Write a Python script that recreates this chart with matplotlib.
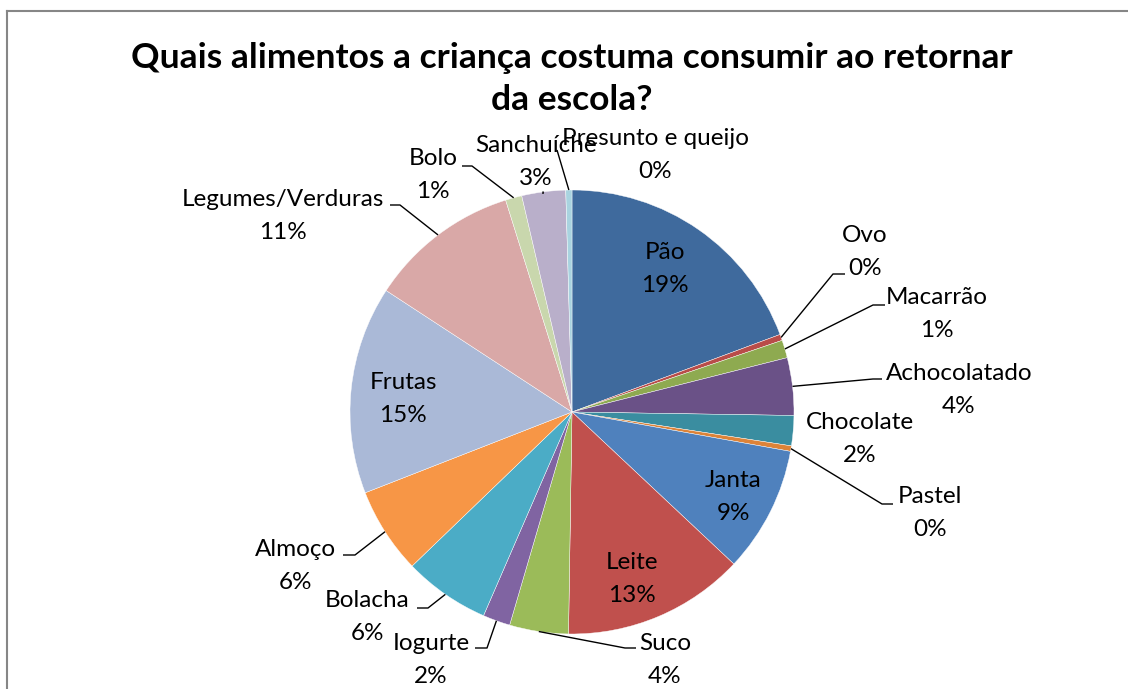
import matplotlib
matplotlib.use("Agg")
import matplotlib.pyplot as plt
import numpy as np

# ---------------- data ----------------
categories = ["Pão", "Ovo", "Macarrão", "Achocolatado", "Chocolate", "Pastel",
              "Janta", "Leite", "Suco", "Iogurte", "Bolacha", "Almoço",
              "Frutas", "Legumes/Verduras", "Bolo", "Sanchuíche", "Presunto e queijo"]
values = [19.4, 0.45, 1.3, 4.2, 2.2, 0.4, 9.2, 13.3, 4.3, 2.0, 6.3, 6.3,
          15.2, 11.0, 1.2, 3.2, 0.45]
title = "Quais alimentos a criança costuma consumir ao retornar\nda escola?"

# ---------------- styles / layout ----------------
colors = ["#3F6A9D", "#B94C49", "#8EAA50", "#6A5187", "#3A8DA0", "#DD8338",
          "#4F81BD", "#C0504D", "#9BBB59", "#8064A2", "#4BACC6", "#F79646",
          "#AAB9D7", "#D9A8A7", "#C9D7AD", "#B9AFCA", "#A9D3E0"]
W, H = 1128, 689
cx, cy, R = 572, 412, 222           # pie centre / radius in pixels (top-left origin)
# label block centres (pixels, top-left origin)
label_pos = [(665, 269), (865, 252), (937, 314), (959, 390), (860, 439), (930, 513),
             (733, 497), (632, 579), (665, 660), (431, 660), (367, 617), (295, 566),
             (403, 399), (283, 216), (433, 175), (536, 162), (655, 155)]
# leader lines: (bend point, end point) or None
leaders = [None,
           ((833, 274), (845, 274)),
           ((873, 305), (885, 305)),
           ((873, 379), (882, 379)),
           None,
           ((882, 504), (893, 504)),
           None, None,
           ((625, 648), (636, 648)),
           ((487, 648), (475, 648)),
           ((428, 608), (417, 608)),
           ((355, 555), (343, 555)),
           None,
           ((400, 205), (390, 205)),
           ((472, 166), (462, 166)),
           ((543, 192), (543, 194)),
           ((557, 150), (557, 150))]

plt.rcParams['font.family'] = ['Lato', 'DejaVu Sans']

fig = plt.figure(figsize=(W / 100, H / 100), dpi=100)
ax = fig.add_axes([0, 0, 1, 1])

wedges, _ = ax.pie(values, colors=colors, startangle=90, counterclock=False,
                   center=(cx, H - cy), radius=R,
                   wedgeprops=dict(edgecolor="white", linewidth=0.3))
ax.set_xlim(0, W)
ax.set_ylim(0, H)
ax.set_aspect('equal')
ax.axis('off')

total = float(sum(values))
for i, (w, name, v) in enumerate(zip(wedges, categories, values)):
    pct = int(round(100 * v / total))
    lx, ly = label_pos[i]
    ax.text(lx, H - ly, f"{name}\n{pct}%", ha='center', va='center',
            fontsize=17.5, color='black', linespacing=1.7)
    if leaders[i] is not None:
        mid = np.deg2rad((w.theta1 + w.theta2) / 2)
        sx = cx + R * np.cos(mid)
        sy = (H - cy) + R * np.sin(mid)
        (bx, by), (ex, ey) = leaders[i]
        ax.plot([sx, bx, ex], [sy, H - by, H - ey], color='black', lw=1.0,
                solid_capstyle='butt')

fig.text(572 / W, 1 - 79 / H, title, ha='center', va='center',
         fontsize=25.5, fontweight='bold', linespacing=1.4)

# chart-area border (left and top edges visible)
ax.plot([7, 7], [0, H - 11], color='#868686', lw=1.5, clip_on=False)
ax.plot([7, W], [H - 11, H - 11], color='#868686', lw=1.5, clip_on=False)

fig.savefig("out.png", dpi=100)
